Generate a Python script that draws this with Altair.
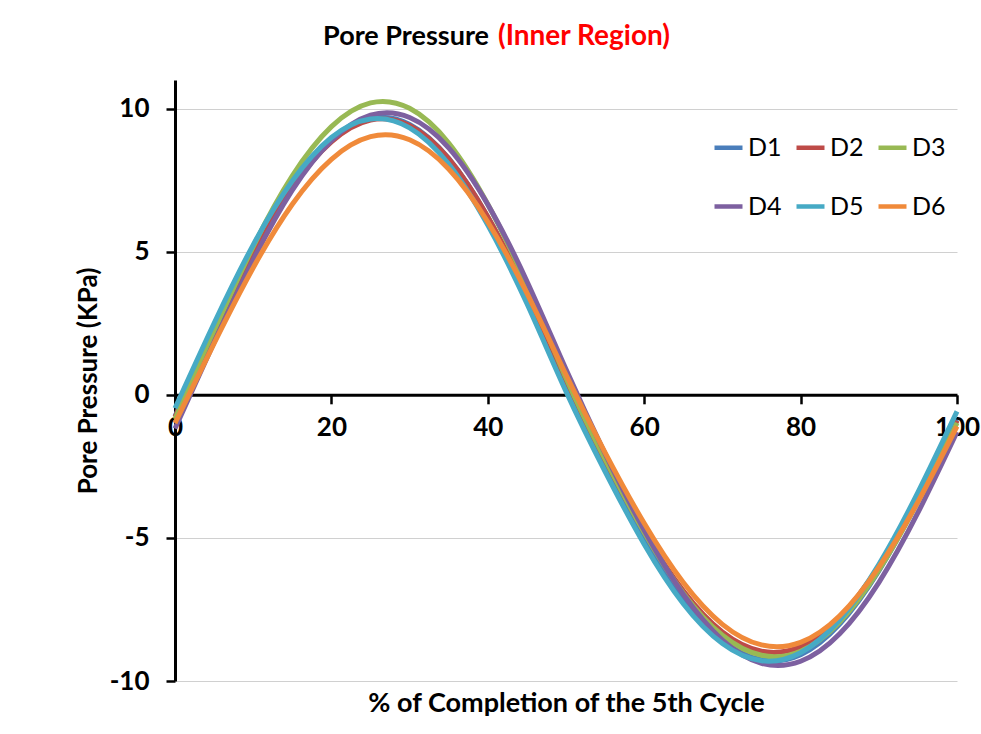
import altair as alt
import pandas as pd

# ---- data ----
x_pct = [0, 5, 10, 15, 20, 25, 30, 35, 40, 45, 50, 55, 60, 65, 70, 75, 80, 85, 90, 95, 100]

d1 = [-0.75, 2.22, 5.01, 7.31, 8.91, 9.66, 9.45, 8.26, 6.21, 3.50, 0.44, -2.41, -4.98, -7.11, -8.58, -9.26, -9.08, -8.01, -6.15, -3.68, -0.87]
d2 = [-0.78, 2.15, 4.93, 7.24, 8.84, 9.60, 9.41, 8.25, 6.22, 3.54, 0.50, -2.28, -4.78, -6.85, -8.29, -8.96, -8.80, -7.78, -5.99, -3.62, -0.90]
d3 = [-0.85, 2.22, 5.18, 7.65, 9.37, 10.20, 10.01, 8.80, 6.66, 3.82, 0.59, -2.26, -4.81, -6.93, -8.40, -9.10, -8.96, -7.94, -6.13, -3.73, -0.98]
d4 = [-1.18, 1.84, 4.71, 7.15, 8.88, 9.77, 9.69, 8.63, 6.65, 3.97, 0.89, -2.06, -4.73, -6.97, -8.57, -9.38, -9.31, -8.35, -6.56, -4.12, -1.30]
d5 = [-0.47, 2.50, 5.24, 7.47, 8.99, 9.64, 9.33, 8.06, 5.93, 3.19, 0.12, -2.68, -5.22, -7.30, -8.69, -9.29, -9.01, -7.86, -5.93, -3.41, -0.58]
d6 = [-0.99, 1.80, 4.44, 6.66, 8.23, 9.02, 8.91, 7.89, 6.04, 3.55, 0.70, -2.02, -4.49, -6.56, -8.02, -8.74, -8.65, -7.72, -6.02, -3.74, -1.10]

series_names = ["D1", "D2", "D3", "D4", "D5", "D6"]
series_values = [d1, d2, d3, d4, d5, d6]
series_colors = ["#4A7EBB", "#BE4B48", "#98B954", "#7D60A0", "#46AAC5", "#F08A3A"]

x_ticks = [0, 20, 40, 60, 80, 100]
y_ticks = [-10, -5, 0, 5, 10]

title_main = ["Pore Pressure"]
title_red = ["(Inner Region)"]
x_title = "% of Completion of the 5th Cycle"
y_title = "Pore Pressure (KPa)"

rows = []
for name, vals in zip(series_names, series_values):
    for xv, yv in zip(x_pct, vals):
        rows.append({"x": xv, "value": yv, "series": name})
df = pd.DataFrame(rows)

FONT = "Lato"
W, H = 782, 601
zero_offset = H * (11 - 0) / 21 - H  # move x axis to y = 0

lines = alt.Chart(df).mark_line(strokeWidth=5, interpolate="natural").encode(
    x=alt.X("x:Q",
            scale=alt.Scale(domain=[0, 100], nice=False),
            axis=alt.Axis(values=x_ticks, offset=zero_offset, grid=False,
                          domainColor="black", domainWidth=3,
                          tickColor="black", tickWidth=2.5, tickSize=9,
                          labelFont=FONT, labelFontSize=26, labelFontWeight="bold",
                          labelColor="black", labelPadding=11, labelFlush=False,
                          labelOverlap=False, labelExpr="'' + datum.value",
                          title=x_title, titleFont=FONT, titleFontSize=27,
                          titleFontWeight="bold", titleColor="black",
                          titleY=309, titleBaseline="middle")),
    y=alt.Y("value:Q",
            scale=alt.Scale(domain=[-10, 11], nice=False),
            axis=alt.Axis(values=y_ticks, grid=True, gridColor="#D0D0D0", gridWidth=1,
                          domainColor="black", domainWidth=3,
                          tickColor="black", tickWidth=2.5, tickSize=9,
                          labelFont=FONT, labelFontSize=26, labelFontWeight="bold",
                          labelColor="black", labelPadding=17,
                          labelExpr="'' + datum.value",
                          title=y_title, titleFont=FONT, titleFontSize=26,
                          titleFontWeight="bold", titleColor="black",
                          titleX=-87, titleY=H / 2, titleAngle=270,
                          titleAlign="center", titleBaseline="middle")),
    color=alt.Color("series:N",
                    scale=alt.Scale(domain=series_names, range=series_colors),
                    legend=alt.Legend(orient="none", legendX=537, legendY=51,
                                      columns=3, direction="horizontal",
                                      title=None, symbolType="stroke",
                                      symbolSize=784, symbolStrokeWidth=4.5,
                                      labelFont=FONT, labelFontSize=25,
                                      labelColor="black", labelOffset=3,
                                      columnPadding=5, rowPadding=29, padding=0)),
)

t1 = alt.Chart(pd.DataFrame({"t": title_main})).mark_text(
    font=FONT, fontSize=27, fontWeight="bold", color="black",
    align="right", baseline="middle"
).encode(x=alt.value(314), y=alt.value(-43), text="t:N")

t2 = alt.Chart(pd.DataFrame({"t": title_red})).mark_text(
    font=FONT, fontSize=28, fontWeight="bold", color="#FF0000",
    align="left", baseline="middle"
).encode(x=alt.value(323), y=alt.value(-43), text="t:N")

chart = alt.layer(lines, t1, t2).properties(
    width=W, height=H,
    autosize=alt.AutoSizeParams(type="none"),
    padding={"left": 175, "top": 80, "right": 24, "bottom": 53},
    background="white",
).configure_view(stroke=None)

chart.save("out.html", embed_options={"renderer": "svg", "actions": False})
